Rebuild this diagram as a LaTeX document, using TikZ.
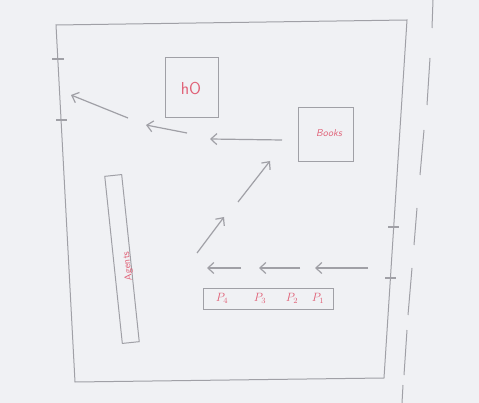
\documentclass[tikz,border=0pt]{standalone}
\usetikzlibrary{arrows.meta}
\definecolor{paper}{RGB}{240,241,244}
\definecolor{pencil}{RGB}{160,160,166}
\definecolor{ink}{RGB}{224,96,118}
\tikzset{
  pen/.style={draw=pencil, line width=1pt},
  box/.style={pen, fill=none, inner sep=0pt},
  arr/.style={pencil, line width=1.2pt, -{Straight Barb[length=6pt,width=11pt]}},
  lbl/.style={text=ink, font=\sffamily},
  tick/.style={pen, line width=1.1pt}
}
\begin{document}
\begin{tikzpicture}[x=1pt,y=-1pt]
\fill[paper] (0,0) rectangle (479,403);
\useasboundingbox (0,0) rectangle (479,403);
% outer frame
\coordinate (tl) at (56,25);
\coordinate (tr) at (407,20);
\coordinate (br) at (384,378);
\coordinate (bl) at (75,382);
\draw[pen] (tl) -- (tr) -- (br) -- (bl) -- cycle;
% ticks
\draw[tick] (52,59) -- (64,59);
\draw[tick] (56,120) -- (67,120);
\draw[tick] (388,227) -- (399,227);
\draw[tick] (385,278) -- (396,278);
% dashed line
\foreach \a/\b/\c/\d in {433/0/432/28, 430/58/427/105, 424/130/420/175, 417/208/414/245, 412/268/408/315, 407/330/404/375, 403/385/402/403}
  \draw[pen] (\a,\b) -- (\c,\d);
% boxes
\node[box, minimum width=53pt, minimum height=60pt] (ho) at (191.5,88) {};
\node[lbl, font=\sffamily\LARGE] (hot) at (191,89) {hO};
\node[box, minimum width=55pt, minimum height=54pt] (books) at (325.5,135) {};
\node[lbl, font=\sffamily\itshape] (bookst) at (329,133) {Books};
\node[box, rotate=6, minimum width=17pt, minimum height=168pt] (agents) at (122,259) {};
\node[lbl, font=\sffamily, rotate=96] (agentst) at (128,266) {Agents};
\node[box, minimum width=130pt, minimum height=20pt] (pbox) at (268,299) {};
\node[lbl, font=\large] (p4) at (222,298) {$P_4$};
\node[lbl, font=\large] (p3) at (260,298) {$P_3$};
\node[lbl, font=\large] (p2) at (292,298) {$P_2$};
\node[lbl, font=\large] (p1) at (318,298) {$P_1$};
% arrows
\coordinate (a1s) at (368,268); \coordinate (a1e) at (315,268);
\coordinate (a2s) at (300,268); \coordinate (a2e) at (259,268);
\coordinate (a3s) at (241,268); \coordinate (a3e) at (207,268);
\coordinate (d1s) at (197,253); \coordinate (d1e) at (224,217);
\coordinate (d2s) at (238,202); \coordinate (d2e) at (270,161);
\coordinate (h1s) at (282,140); \coordinate (h1e) at (210,139);
\coordinate (h2s) at (187,133); \coordinate (h2e) at (146,125);
\coordinate (h3s) at (128,118); \coordinate (h3e) at (71,95);
\draw[arr] (a1s) -- (a1e);
\draw[arr] (a2s) -- (a2e);
\draw[arr] (a3s) -- (a3e);
\draw[arr] (d1s) -- (d1e);
\draw[arr] (d2s) -- (d2e);
\draw[arr] (h1s) -- (h1e);
\draw[arr] (h2s) -- (h2e);
\draw[arr] (h3s) -- (h3e);
\end{tikzpicture}
\end{document}
